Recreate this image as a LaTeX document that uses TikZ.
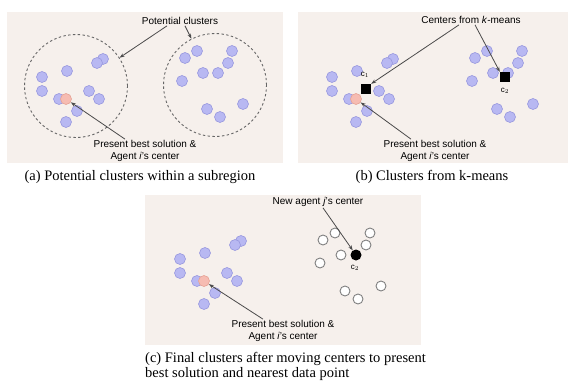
\documentclass[tikz,border=0pt]{standalone}
\usepackage{fontspec}
\setmainfont{Liberation Serif}
\setsansfont{Liberation Sans}
\usetikzlibrary{arrows.meta, calc}
\definecolor{panelbg}{HTML}{F6F0EC}
\definecolor{lavender}{HTML}{B8B8F2}
\definecolor{lavenderedge}{HTML}{9898DE}
\definecolor{salmon}{HTML}{F6BCB2}
\definecolor{salmonedge}{HTML}{E6A294}
\definecolor{pointer}{HTML}{4A4A4A}
\colorlet{ringgray}{black!60}

% point lists of the two clusters (panel (a) coordinates)
\newcommand{\leftpts}{42/77, 42/91, 67/71, 103/59, 97/63, 59/99, 99/99, 89/91, 77/111, 66/122}
\newcommand{\rightpts}{197/51, 185/58, 232/51, 228/63, 203/73, 218/73, 182/81, 207/109, 220/117, 243/104}
\newcommand{\openpts}{197/51, 185/58, 232/51, 228/63, 203/73, 182/81, 207/109, 220/117, 243/104}

\tikzset{
  datapt/.style={circle, fill=lavender, draw=lavenderedge, line width=0.6pt,
    minimum size=11pt, inner sep=0pt},
  bestpt/.style={datapt, fill=salmon, draw=salmonedge},
  openpt/.style={circle, fill=white, draw=black!50, line width=0.9pt,
    minimum size=10pt, inner sep=0pt},
  centerbox/.style={fill=black, minimum size=10pt, inner sep=0pt},
  centerdot/.style={circle, fill=black, minimum size=11pt, inner sep=0pt},
  region/.style={circle, draw=ringgray, dash pattern=on 2.4pt off 2.4pt,
    line width=0.9pt, minimum size=103pt, inner sep=0pt},
  tag/.style={font=\sffamily\fontsize{10}{12}\selectfont, inner sep=1pt},
  subtag/.style={font=\sffamily\fontsize{8}{9}\selectfont, inner sep=0pt},
  ptr/.style={-{Stealth[length=5pt, width=3.6pt]}, draw=pointer, line width=0.8pt},
  caption/.style={font=\fontsize{14.5}{15}\selectfont, inner sep=0pt}
}

\begin{document}
\begin{tikzpicture}[x=1pt, y=-1pt]
  \useasboundingbox (0,0) rectangle (568,383);

  % panel backgrounds
  \fill[panelbg] (7,12)    rectangle (283,163);
  \fill[panelbg] (298,12)  rectangle (568,163);
  \fill[panelbg] (145,195) rectangle (421,345);

  % (a) potential clusters
  \begin{scope}
    \node[region] (aleftring)  at (76,86)  {};
    \node[region] (arightring) at (215,85) {};
    \foreach \px/\py [count=\k] in \leftpts
      \node[datapt] (al\k) at (\px,\py) {};
    \node[bestpt] (abest) at (66,99) {};
    \foreach \px/\py [count=\k] in \rightpts
      \node[datapt] (ar\k) at (\px,\py) {};

    \node[tag] (apotential) at (180,21) {Potential clusters};
    \node[tag, align=center] (apresent) at (145,151)
      {Present best solution \&\\Agent \textit{i}'s center};
    \draw[ptr] ([xshift=-13pt]apotential.south) -- (aleftring.33);
    \draw[ptr] ([xshift=5pt]apotential.south)   -- (arightring.117);
    \draw[ptr] ([xshift=-20pt]apresent.north)   -- (abest);
  \end{scope}

  % (b) clusters from k-means
  \begin{scope}[shift={(290,0)}]
    \foreach \px/\py [count=\k] in \leftpts
      \node[datapt] (bl\k) at (\px,\py) {};
    \node[bestpt] (bbest) at (66,99) {};
    \foreach \px/\py [count=\k] in \rightpts
      \node[datapt] (br\k) at (\px,\py) {};
    \node[centerbox] (bcone) at (76,89) {};
    \node[centerbox] (bctwo) at (215,77) {};
    \node[subtag] (bconelabel) at (75,75) {c$_1$};
    \node[subtag] (bctwolabel) at (215,91) {c$_2$};

    \node[tag] (bcenters) at (181,20) {Centers from \textit{k}-means};
    \node[tag, align=center] (bpresent) at (145,151)
      {Present best solution \&\\Agent \textit{i}'s center};
    \draw[ptr] ([xshift=-12pt]bcenters.south) -- (bcone.north east);
    \draw[ptr] ([xshift=4pt]bcenters.south)   -- (bctwo.north west);
    \draw[ptr] ([xshift=-24pt]bpresent.north) -- (bbest);
  \end{scope}

  % (c) final clusters
  \begin{scope}[shift={(138,182)}]
    \foreach \px/\py [count=\k] in \leftpts
      \node[datapt] (cl\k) at (\px,\py) {};
    \node[bestpt] (cbest) at (66,99) {};
    \foreach \px/\py [count=\k] in \openpts
      \node[openpt] (cr\k) at (\px,\py) {};
    \node[centerdot] (cctwo) at (218,73) {};
    \node[subtag] (cctwolabel) at (217,86) {c$_2$};

    \node[tag] (cnew) at (180,20) {New agent \textit{j}'s center};
    \node[tag, align=center] (cpresent) at (145,149)
      {Present best solution \&\\Agent \textit{i}'s center};
    \draw[ptr] ([xshift=5pt]cnew.south)       -- (cctwo);
    \draw[ptr] ([xshift=-20pt]cpresent.north) -- (cbest);
  \end{scope}

  % captions
  \node[caption] (capa) at (140,177) {(a) Potential clusters within a subregion};
  \node[caption] (capb) at (432,177) {(b) Clusters from k-means};
  \node[caption, anchor=west, align=left] (capc) at (145,366)
    {(c) Final clusters after moving centers to present\\best solution and nearest data point};
\end{tikzpicture}
\end{document}
